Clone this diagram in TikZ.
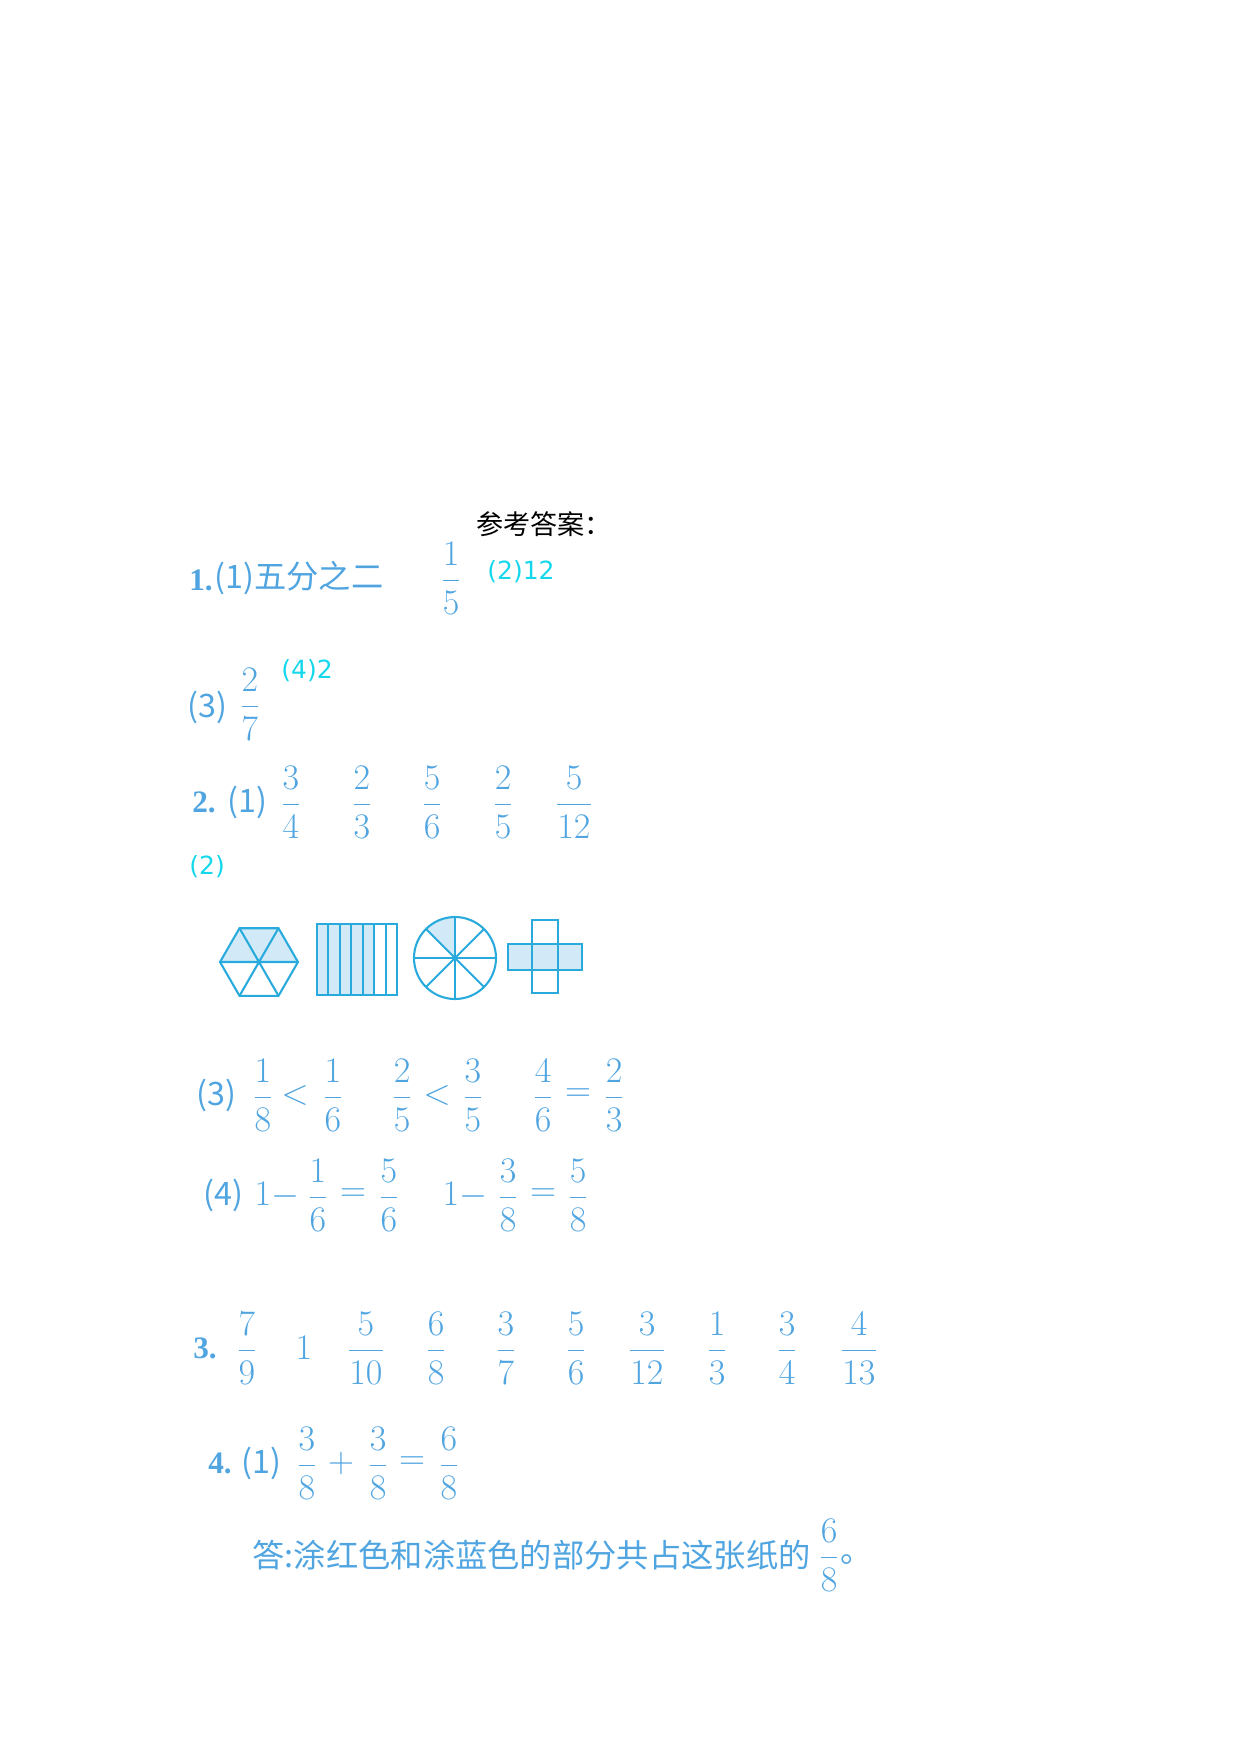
\documentclass[tikz,border=0pt]{standalone}
\usepackage{amsmath,amssymb}
\usepackage{fontspec}
\setmainfont{Liberation Serif}
\newfontfamily\cjk{Noto Sans CJK SC}
\newfontfamily\sans{DejaVu Sans}
\usepackage{tikz}
\definecolor{ansblue}{RGB}{80,165,225}
\definecolor{anscyan}{RGB}{20,215,235}
\definecolor{shapeline}{RGB}{40,170,220}
\definecolor{shapefill}{RGB}{210,234,248}
\tikzset{
  ans/.style={text=ansblue,font=\fontsize{16}{19}\selectfont,inner sep=0pt},
  zh/.style={text=ansblue,font=\fontsize{15.5}{18}\cjk,inner sep=0pt},
  cy/.style={text=anscyan,font=\fontsize{12}{14}\sans,inner sep=0pt},
  num/.style={text=ansblue,font=\fontsize{15}{18}\bfseries,inner sep=0pt},
  part/.style={draw=shapeline,line width=1pt},
}
\newcommand{\fr}[2]{$\dfrac{#1}{#2}$}
\begin{document}
\begin{tikzpicture}[x=0.48pt,y=-0.48pt]
\useasboundingbox (0,0) rectangle (1240,1754);

\node [font=\fontsize{13}{15}\cjk,inner sep=0pt] (title) at (544,524) {参考答案：};

% 1
\node [num] (n1) at (201,580) {1.};
\node [zh,anchor=west] (q11) at (214,578) {(1)五分之二};
\node [ans] (f11) at (451,578) {\fr{1}{5}};
\node [cy,anchor=west] (q12) at (487,572) {(2)12};
\node [zh,anchor=west] (q13) at (187,707) {(3)};
\node [ans] (f13) at (250,704) {\fr{2}{7}};
\node [cy,anchor=west] (q14) at (281,671) {(4)2};

% 2
\node [num] (n2) at (204,802) {2.};
\node [zh,anchor=west] (q21) at (227,802) {(1)};
\node [ans] (f21a) at (291,802) {\fr{3}{4}};
\node [ans] (f21b) at (362,802) {\fr{2}{3}};
\node [ans] (f21c) at (432,802) {\fr{5}{6}};
\node [ans] (f21d) at (503,802) {\fr{2}{5}};
\node [ans] (f21e) at (574,802) {\fr{5}{12}};
\node [cy,anchor=west] (q22) at (189,867) {(2)};

% shapes
\fill [shapefill] (220,962) -- (239.5,928.2) -- (278.5,928.2) -- (298,962) -- cycle;
\draw [part] (220,962) -- (239.5,928.2) -- (278.5,928.2) -- (298,962) -- (278.5,995.8) -- (239.5,995.8) -- cycle;
\draw [part] (220,962) -- (298,962) (239.5,928.2) -- (278.5,995.8) (278.5,928.2) -- (239.5,995.8);

\fill [shapefill] (317,924) rectangle (374.1,995);
\draw [part] (317,924) rectangle (397,995);
\foreach \i in {1,...,6}
  \draw [part] (317+\i*11.43,924) -- (317+\i*11.43,995);

\fill [shapefill] (455,958) -- ++(-90:41) arc [start angle=-90,end angle=-135,radius=41] -- cycle;
\draw [part] (455,958) circle (41);
\foreach \a in {0,45,90,135}
  \draw [part] (455,958) ++(\a:41) -- ++(\a+180:82);

\fill [shapefill] (508,944) rectangle (582,970);
\draw [part] (508,944) rectangle (582,970);
\draw [part] (532,920) rectangle (558,993);
\draw [part] (532,944) -- (532,970) (558,944) -- (558,970);

% (3)
\node [zh,anchor=west] (q23) at (196,1095) {(3)};
\node [ans] (f23a) at (263,1095) {\fr{1}{8}};
\node [ans] (l23a) at (295,1095) {$<$};
\node [ans] (f23b) at (333,1095) {\fr{1}{6}};
\node [ans] (f23c) at (402,1095) {\fr{2}{5}};
\node [ans] (l23b) at (437,1095) {$<$};
\node [ans] (f23d) at (473,1095) {\fr{3}{5}};
\node [ans] (f23e) at (543,1095) {\fr{4}{6}};
\node [ans] (e23) at (578,1095) {$=$};
\node [ans] (f23f) at (614,1095) {\fr{2}{3}};

% (4)
\node [zh,anchor=west] (q24) at (203,1195) {(4)};
\node [ans] (m24a) at (277,1195) {$1-$};
\node [ans] (f24a) at (318,1195) {\fr{1}{6}};
\node [ans] (e24a) at (353,1195) {$=$};
\node [ans] (f24b) at (389,1195) {\fr{5}{6}};
\node [ans] (m24b) at (465,1195) {$1-$};
\node [ans] (f24c) at (508,1195) {\fr{3}{8}};
\node [ans] (e24b) at (543,1195) {$=$};
\node [ans] (f24d) at (578,1195) {\fr{5}{8}};

% 3
\node [num] (n3) at (205,1348) {3.};
\node [ans] (f3a) at (247,1348) {\fr{7}{9}};
\node [ans] (f3b) at (304,1348) {$1$};
\node [ans] (f3c) at (366,1348) {\fr{5}{10}};
\node [ans] (f3d) at (436,1348) {\fr{6}{8}};
\node [ans] (f3e) at (506,1348) {\fr{3}{7}};
\node [ans] (f3f) at (576,1348) {\fr{5}{6}};
\node [ans] (f3g) at (647,1348) {\fr{3}{12}};
\node [ans] (f3h) at (717,1348) {\fr{1}{3}};
\node [ans] (f3i) at (787,1348) {\fr{3}{4}};
\node [ans] (f3j) at (859,1348) {\fr{4}{13}};

% 4
\node [num] (n4) at (220,1463) {4.};
\node [zh,anchor=west] (q41) at (241,1463) {(1)};
\node [ans] (f4a) at (307,1463) {\fr{3}{8}};
\node [ans] (p4) at (341,1463) {$+$};
\node [ans] (f4b) at (378,1463) {\fr{3}{8}};
\node [ans] (e4) at (412,1463) {$=$};
\node [ans] (f4c) at (449,1463) {\fr{6}{8}};
\node [zh,anchor=east] (a4) at (811,1555) {答:涂红色和涂蓝色的部分共占这张纸的};
\node [ans] (f4d) at (829,1555) {\fr{6}{8}};
\node [zh] (d4) at (857,1560) {。};
\end{tikzpicture}
\end{document}
